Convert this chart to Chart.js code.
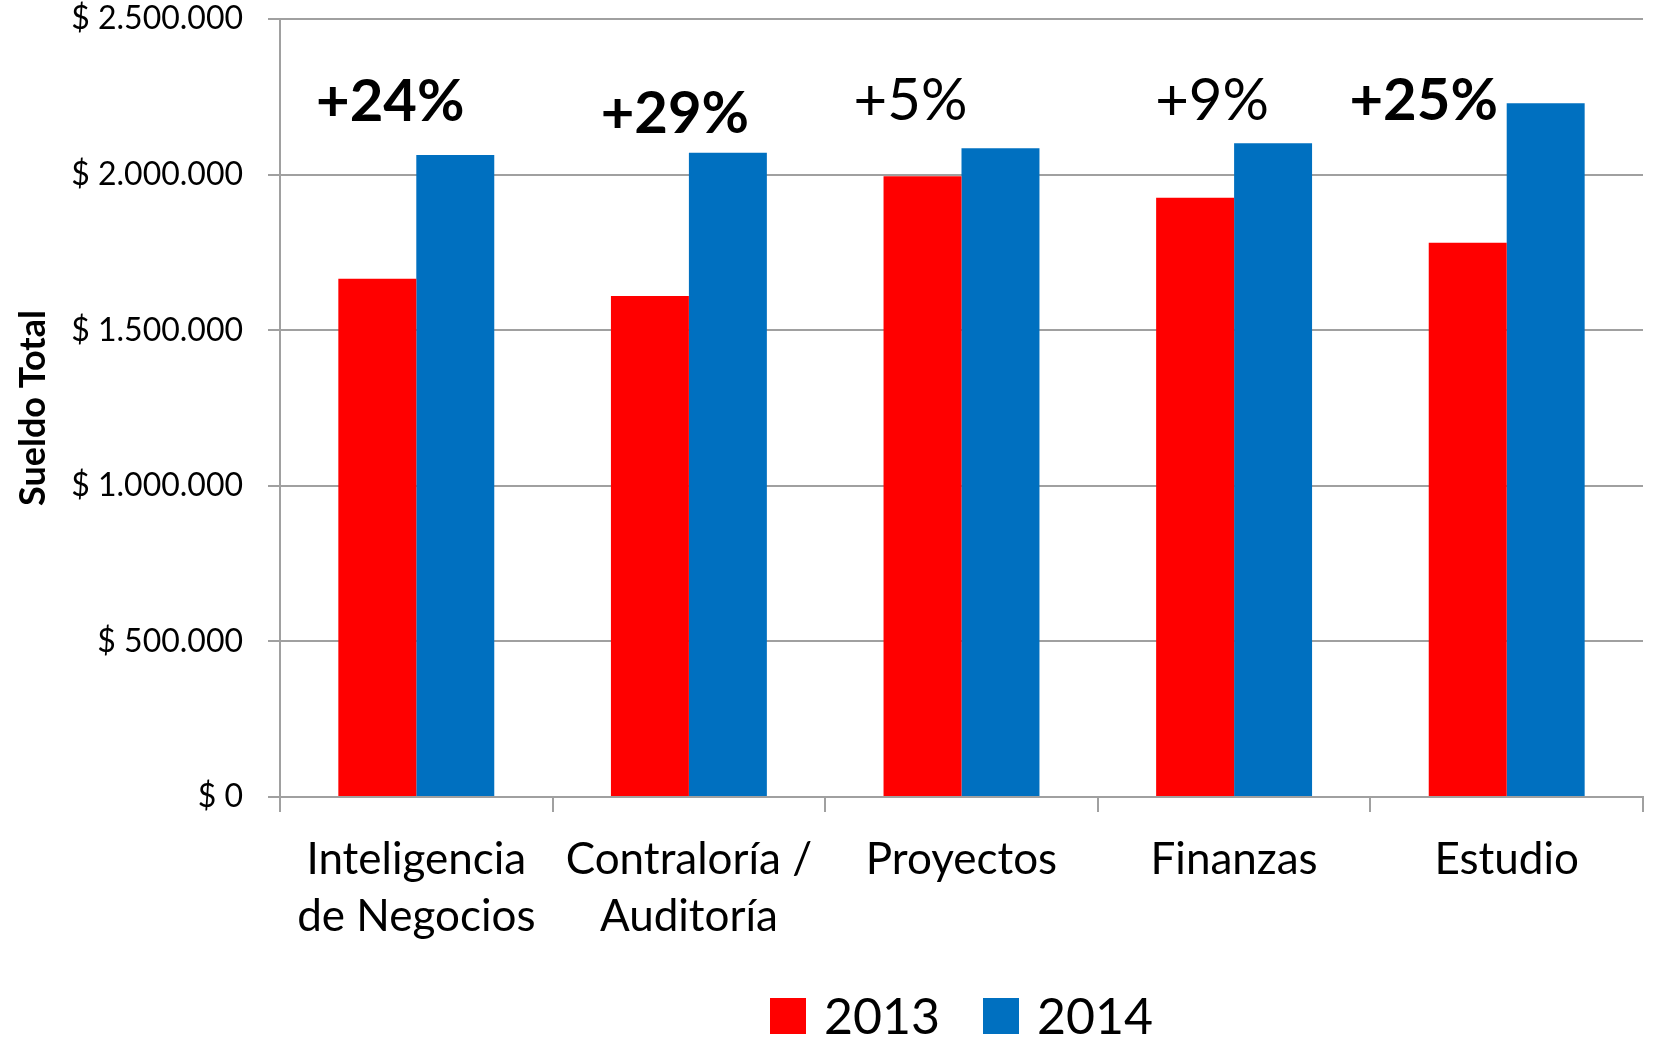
<!DOCTYPE html>
<html>
<head>
<meta charset="utf-8">
<title>Sueldo Total 2013 vs 2014</title>
<script src="https://cdn.jsdelivr.net/npm/chart.js@4"></script>
<style>
  html, body { margin: 0; padding: 0; background: #fff; }
  #wrap { width: 1657px; height: 1048px; }
</style>
</head>
<body>
<div id="wrap"><canvas id="sueldoChart" width="1657" height="1048"></canvas></div>
<script>
// datos del grafico
const categorias = [['Inteligencia', 'de Negocios'], ['Contraloría /', 'Auditoría'], 'Proyectos', 'Finanzas', 'Estudio'];
const sueldo2013 = [1665000, 1610000, 1995000, 1926000, 1781000];
const sueldo2014 = [2063000, 2070000, 2085000, 2101000, 2229000];
const variacion = ['+24%', '+29%', '+5%', '+9%', '+25%'];
const variacionDestacada = [true, true, false, false, true];
const series = ['2013', '2014'];
const ticksY = [0, 500000, 1000000, 1500000, 2000000, 2500000];

const colores = ['#FF0000', '#0070C0'];
const gris = '#A0A0A0';

function formatoPesos(v) {
    return '$ ' + String(v).replace(/\B(?=(\d{3})+(?!\d))/g, '.');
}

// etiquetas de variacion sobre cada grupo
const etiquetasVariacion = {
    id: 'etiquetasVariacion',
    afterDatasetsDraw(chart, args, opts) {
        const ctx = chart.ctx;
        const x = chart.scales.x;
        const top = chart.chartArea.top;
        ctx.save();
        ctx.fillStyle = '#000';
        ctx.textAlign = 'center';
        ctx.textBaseline = 'alphabetic';
        variacion.forEach((txt, i) => {
            ctx.font = (variacionDestacada[i] ? 'bold ' : '') + '58px Lato';
            ctx.fillText(txt, x.getPixelForValue(i) + opts.dx[i], top + opts.dy[i]);
        });
        ctx.restore();
    }
};

// leyenda centrada bajo el area del grafico
const leyenda = {
    id: 'leyenda',
    afterDraw(chart, args, opts) {
        const ctx = chart.ctx;
        const area = chart.chartArea;
        ctx.save();
        ctx.font = opts.fontSize + 'px Lato';
        const anchos = series.map(s => ctx.measureText(s).width);
        const total = anchos.reduce((a, w) => a + opts.box + opts.gap + w, 0) + opts.spacing * (series.length - 1);
        let cx = (area.left + area.right) / 2 - total / 2;
        series.forEach((s, i) => {
            ctx.fillStyle = colores[i];
            ctx.fillRect(cx, opts.y, opts.box, opts.box);
            cx += opts.box + opts.gap;
            ctx.fillStyle = '#000';
            ctx.textBaseline = 'alphabetic';
            ctx.fillText(s, cx, opts.y + opts.box);
            cx += anchos[i] + opts.spacing;
        });
        ctx.restore();
    }
};

const ctx = document.getElementById('sueldoChart').getContext('2d');
new Chart(ctx, {
    type: 'bar',
    data: {
        labels: categorias,
        datasets: [{
            label: series[0],
            data: sueldo2013,
            backgroundColor: colores[0],
            categoryPercentage: 0.572,
            barPercentage: 1.0
        }, {
            label: series[1],
            data: sueldo2014,
            backgroundColor: colores[1],
            categoryPercentage: 0.572,
            barPercentage: 1.0
        }]
    },
    options: {
        responsive: false,
        animation: false,
        layout: { padding: { left: 0, right: 14, top: 19, bottom: 0 } },
        plugins: {
            legend: { display: false },
            tooltip: { enabled: false },
            etiquetasVariacion: { dx: [-26, -14, -51, -22, -83], dy: [102, 114, 101, 101, 101] },
            leyenda: { y: 998, box: 36, gap: 18, spacing: 43, fontSize: 50 }
        },
        scales: {
            x: {
                grid: { display: true, drawOnChartArea: false, offset: true, tickLength: 15, color: gris, lineWidth: 2 },
                border: { color: gris, width: 2 },
                ticks: { color: '#000', font: { family: 'Lato', size: 44, lineHeight: 1.3 }, padding: 19, maxRotation: 0, autoSkip: false },
                afterFit(scale) { scale.height = 251; }
            },
            y: {
                min: 0,
                max: 2500000,
                afterBuildTicks(scale) { scale.ticks = ticksY.map(v => ({ value: v })); },
                grid: { color: gris, lineWidth: 2, tickLength: 12 },
                border: { color: gris, width: 2 },
                ticks: { color: '#000', font: { family: 'Lato', size: 32 }, padding: 25, callback: v => formatoPesos(v) },
                title: { display: true, text: 'Sueldo Total', color: '#000', font: { family: 'Lato', size: 36, weight: 'bold' }, padding: { top: 12, bottom: 0 } },
                afterFit(scale) {
                    scale.width = 280;
                    scale.paddingTop = 0;
                    scale.paddingBottom = 0;
                }
            }
        }
    },
    plugins: [etiquetasVariacion, leyenda]
});
</script>
</body>
</html>
